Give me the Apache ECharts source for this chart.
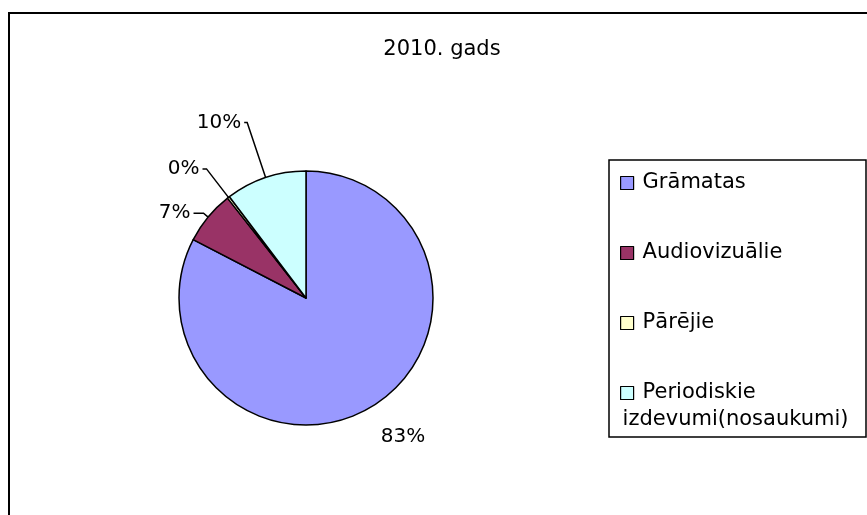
<!DOCTYPE html>
<html>
<head>
<meta charset="utf-8">
<script src="https://cdn.jsdelivr.net/npm/echarts@6/dist/echarts.min.js"></script>
<style>
html,body{margin:0;padding:0;background:#fff;}
#chart{width:867px;height:515px;}
</style>
</head>
<body>
<div id="chart"></div>
<script>
const titleText = '2010. gads';
const categories = ['Grāmatas', 'Audiovizuālie', 'Pārējie', 'Periodiskie izdevumi(nosaukumi)'];
const values = [82.6, 6.8, 0.3, 10.3];
const colors = ['#9999FF', '#993366', '#FFFFCC', '#CCFFFF'];

const FONT = '"DejaVu Sans", "Liberation Sans", Arial, sans-serif';

// label line tuning per slice (layout only)
const labelTweaks = [
  { line: false, length: 36, length2: -13 },
  { line: true, length: 6, length2: 10 },
  { line: true, length: 36, length2: 4 },
  { line: true, length: 58, length2: 3 }
];

const chart = echarts.init(document.getElementById('chart'), null, { renderer: 'canvas' });

const pieData = categories.map((name, i) => ({
  name: name,
  value: values[i],
  itemStyle: { color: colors[i] },
  label: { show: true },
  labelLine: {
    show: labelTweaks[i].line,
    length: labelTweaks[i].length,
    length2: labelTweaks[i].length2
  }
}));

const legendData = categories.map((name, i) => ({
  name: name,
  textStyle: {
    padding: i === categories.length - 1 ? [27, 0, 0, -16] : [27, 0, 27, 4]
  }
}));

const richBase = { fontFamily: FONT, fontSize: 21, lineHeight: 27, color: '#000' };

chart.setOption({
  backgroundColor: '#ffffff',
  animation: false,
  title: {
    text: titleText,
    left: 437,
    top: 34,
    textAlign: 'center',
    textStyle: { fontFamily: FONT, fontSize: 21, fontWeight: 'normal', color: '#000' }
  },
  legend: {
    orient: 'vertical',
    left: 620,
    top: 142.5,
    padding: 0,
    itemGap: -11,
    itemWidth: 13,
    itemHeight: 13,
    icon: 'rect',
    selectedMode: false,
    data: legendData,
    formatter: function (name) {
      if (name.indexOf('Periodiskie ') === 0) {
        const parts = name.split(' ');
        return '{a|' + parts[0] + '}\n{b|' + parts.slice(1).join(' ') + '}';
      }
      return name;
    },
    itemStyle: { borderColor: '#000', borderWidth: 1.2 },
    textStyle: {
      fontFamily: FONT, fontSize: 21, lineHeight: 27, color: '#000',
      rich: {
        a: Object.assign({ padding: [0, 0, 0, 20] }, richBase),
        b: Object.assign({}, richBase)
      }
    }
  },
  graphic: [
    {
      type: 'rect',
      shape: { x: 9, y: 13, width: 900, height: 600 },
      style: { fill: 'none', stroke: '#000', lineWidth: 2 },
      silent: true
    },
    {
      type: 'rect',
      shape: { x: 609, y: 160, width: 257, height: 277 },
      style: { fill: 'none', stroke: '#000', lineWidth: 1.5 },
      silent: true
    }
  ],
  series: [{
    type: 'pie',
    center: [306, 298],
    radius: 127,
    startAngle: 90,
    clockwise: true,
    avoidLabelOverlap: false,
    minShowLabelAngle: 0,
    itemStyle: { borderColor: '#000', borderWidth: 1.5 },
    emphasis: { disabled: true },
    label: {
      position: 'outside',
      formatter: function (p) { return Math.round(p.percent) + '%'; },
      fontFamily: FONT,
      fontSize: 20,
      color: '#000',
      distanceToLabelLine: 3
    },
    labelLine: {
      lineStyle: { color: '#000', width: 1.5 }
    },
    data: pieData
  }]
});
</script>
</body>
</html>
